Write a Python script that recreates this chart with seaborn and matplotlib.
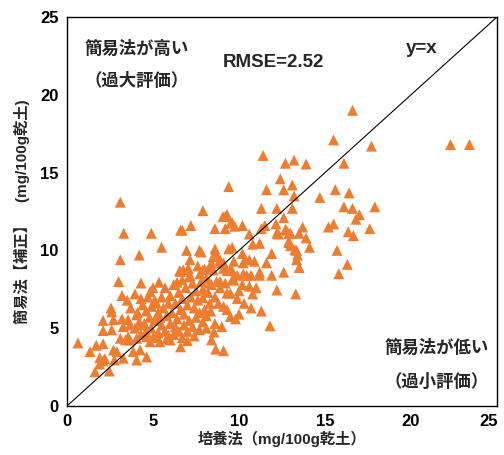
import matplotlib
matplotlib.use("Agg")
import matplotlib.pyplot as plt
import matplotlib.transforms as mtransforms
import seaborn as sns
import pandas as pd

# ---- data (培養法 x, 簡易法【補正】 y), mg/100g乾土 ----
x_vals = [
    0.64, 3.1, 16.6, 22.3, 23.4, 15.5, 17.7, 11.4, 12.7, 13.2, 13.9, 16.1, 9.4, 12.4, 11.6, 12.6,
    13.1, 13.2, 14.7, 15.6, 16.4, 7.9, 11.3, 12.2, 13.1, 16.1, 16.6, 17.0, 17.9, 16.8, 12.6, 9.2,
    9.6, 10.2, 8.6, 9.2, 10.6, 11.3, 12.15, 12.7, 12.9, 13.7, 13.5, 12.3, 15.2, 15.5, 16.35, 16.65,
    17.6, 13.9, 12.9, 11.2, 10.8, 9.6, 9.4, 8.6, 7.8, 14.1, 13.35, 11.9, 15.7, 10.2, 8.5, 10.6,
    10.9, 11.6, 10.25, 16.3, 13.5, 15.8, 12.6, 13.4, 12.2, 13.3, 11.3, 11.8, 10.45, 11.2, 11.9, 9.5,
    9.9, 9.5, 9.8, 8.6, 8.55, 8.4, 8.65, 9.1, 7.9, 8.0, 8.35, 7.9, 7.2, 6.7, 9.07, 9.3,
    9.5, 9.75, 11.5, 12.2, 12.75, 13.0, 12.9, 13.0, 6.95, 7.15, 7.7, 8.7, 10.35, 13.25, 13.35, 6.76,
    7.05, 7.15, 7.73, 8.3, 8.5, 9.1, 9.5, 10.25, 10.7, 11.2, 8.9, 9.1, 9.7, 3.3, 4.9, 5.5,
    3.1, 4.2, 6.6, 6.55, 3.0, 4.3, 5.35, 6.4, 6.6, 3.2, 3.95, 4.83, 5.1, 4.92, 2.56, 2.6,
    2.1, 2.7, 3.2, 3.55, 2.1, 2.6, 4.05, 3.95, 4.25, 3.1, 3.4, 3.55, 1.34, 1.7, 2.1, 1.9,
    2.2, 1.63, 2.46, 1.9, 2.1, 2.7, 2.9, 2.75, 3.27, 3.85, 4.25, 4.63, 4.05, 3.66, 4.05, 4.63,
    4.83, 5.2, 5.4, 6.0, 5.9, 3.27, 3.66,
    4.4, 4.6, 4.8, 4.5, 4.9, 5.1, 5.3, 5.2, 5.5, 5.6, 5.8, 5.5, 5.7, 6.0, 6.1, 6.3,
    6.0, 6.5, 6.7, 6.6, 6.4, 6.8, 7.0, 7.2, 6.9, 7.3, 7.5, 7.6, 7.4, 7.7, 7.1, 6.8,
    6.5, 6.2, 7.0, 7.3, 6.7, 7.4, 5.0, 5.3, 4.6, 4.3, 4.1, 4.3, 4.7, 5.0, 5.7, 6.2,
    6.7, 7.1, 7.8, 8.1, 7.9, 8.2, 8.4, 8.7, 8.9, 8.6, 8.8, 9.1, 8.3, 8.1, 7.5, 9.2,
    9.6, 9.9, 10.2, 10.0, 10.6, 10.8, 9.6, 8.0, 8.4, 7.6, 5.9, 5.4, 4.2, 6.3, 7.7, 8.1,
    9.0, 9.3, 10.3, 10.7, 10.0, 11.0, 3.7, 3.5, 5.8, 6.6, 7.0, 8.9, 9.3, 9.7, 7.9, 8.3,
    8.9, 9.3,
]
y_vals = [
    4.05, 13.1, 19.0, 16.8, 16.8, 17.1, 16.7, 16.1, 15.6, 15.8, 15.55, 15.6, 14.1, 14.6, 13.9, 13.9,
    14.2, 13.5, 13.4, 13.9, 13.7, 12.55, 12.7, 12.7, 12.7, 12.8, 12.7, 12.3, 12.8, 12.0, 12.1, 12.2,
    11.8, 11.6, 11.4, 11.4, 11.05, 11.4, 11.7, 11.35, 11.1, 11.5, 11.1, 11.05, 11.5, 11.7, 11.2, 10.95,
    11.4, 10.8, 10.6, 10.45, 10.4, 10.2, 10.1, 10.1, 9.9, 10.2, 10.0, 9.8, 10.0, 9.8, 9.6, 9.4,
    9.3, 9.2, 9.2, 9.1, 8.9, 8.5, 8.6, 9.7, 7.45, 7.2, 6.1, 5.15, 8.4, 8.4, 8.4, 7.25,
    6.9, 5.75, 5.6, 5.3, 4.75, 4.25, 3.65, 3.55, 6.96, 6.2, 6.1, 5.4, 11.6, 11.3, 12.17, 12.3,
    11.75, 11.55, 11.6, 11.1, 11.3, 11.1, 10.5, 10.3, 10.0, 9.4, 10.0, 9.7, 9.4, 10.05, 9.4, 8.74,
    8.85, 8.4, 8.5, 8.95, 8.74, 8.85, 8.74, 8.5, 8.4, 8.6, 9.4, 9.2, 9.3, 11.1, 11.1, 10.2,
    9.4, 9.7, 11.3, 8.7, 8.0, 7.9, 7.95, 7.95, 8.65, 7.1, 7.2, 7.35, 6.8, 6.4, 6.3, 6.05,
    5.5, 5.55, 5.6, 5.55, 4.85, 4.9, 5.85, 5.0, 5.2, 4.35, 4.25, 4.45, 3.5, 3.9, 4.0, 3.1,
    3.05, 2.2, 2.25, 2.7, 2.9, 3.6, 3.5, 2.95, 3.07, 3.5, 3.6, 3.15, 2.95, 4.24, 4.35, 4.45,
    4.13, 4.45, 4.13, 4.24, 4.56, 5.1, 5.2,
    6.5, 6.1, 5.7, 5.3, 5.0, 5.5, 6.0, 6.6, 7.0, 6.3, 5.8, 5.2, 4.8, 5.3, 6.0, 6.6,
    7.1, 7.3, 6.9, 6.2, 5.6, 5.9, 6.5, 7.0, 7.6, 7.9, 7.4, 6.8, 6.3, 6.0, 5.5, 5.2,
    4.8, 4.6, 4.8, 5.1, 4.4, 4.5, 4.4, 4.7, 4.8, 4.6, 6.0, 6.9, 7.0, 7.6, 7.6, 7.8,
    8.1, 8.3, 8.0, 8.2, 7.5, 7.3, 7.8, 8.0, 7.6, 7.0, 6.6, 6.4, 6.6, 5.8, 5.7, 7.9,
    8.1, 8.4, 7.8, 7.4, 7.7, 7.2, 8.7, 8.8, 9.2, 9.0, 6.6, 5.7, 5.4, 5.1, 4.9, 5.0,
    5.1, 6.2, 6.6, 6.3, 5.9, 7.6, 6.3, 6.8, 4.3, 3.8, 4.2, 9.2, 8.7, 8.1, 8.74, 7.9,
    8.0, 7.25,
]
n = min(len(x_vals), len(y_vals))
df = pd.DataFrame({"culture": x_vals[:n], "simple": y_vals[:n]})

ticks = [0, 5, 10, 15, 20, 25]
tick_labels = ["0", "5", "10", "15", "20", "25"]

sns.set_style("white")
plt.rcParams["font.family"] = ["Liberation Sans", "Noto Sans CJK JP", "DejaVu Sans"]
plt.rcParams["font.weight"] = "bold"

fig = plt.figure(figsize=(5.04, 4.55), dpi=100)
ax = fig.add_axes([67 / 504, 49 / 455, 430 / 504, 389 / 455])

sns.scatterplot(data=df, x="culture", y="simple", marker="^", s=62,
                color="#ED7D31", edgecolor="none", linewidth=0, ax=ax, zorder=2)
ax.plot([0, 25], [0, 25], color="black", linewidth=0.8, zorder=3)

ax.set_xlim(0, 25)
ax.set_ylim(0, 25)
ax.set_xticks(ticks)
ax.set_xticklabels(tick_labels, fontsize=12, fontweight="bold")
ax.set_yticks(ticks)
ax.set_yticklabels(tick_labels, fontsize=12, fontweight="bold")
ax.tick_params(axis="both", direction="in", length=5, width=1, color="black",
               labelcolor="black", top=False, right=False, pad=6)
for sp in ax.spines.values():
    sp.set_color("black")
    sp.set_linewidth(1.0)

# keep the last x tick label inside the figure
last = ax.get_xticklabels()[-1]
last.set_transform(last.get_transform() +
                   mtransforms.ScaledTranslation(-6 / 72, 0, fig.dpi_scale_trans))

ax.set_xlabel("培養法（mg/100g乾土）", fontsize=11, fontweight="bold", labelpad=1)
ax.set_ylabel("簡易法【補正】　(mg/100g乾土)", fontsize=11, fontweight="bold", labelpad=7)

ax.text(4.05, 23.0, "簡易法が高い", fontsize=12.5, fontweight="bold", ha="center", va="center")
ax.text(4.05, 20.9, "（過大評価）", fontsize=12.5, fontweight="bold", ha="center", va="center")
ax.text(12.0, 22.1, "RMSE=2.52", fontsize=13.5, fontweight="bold", ha="center", va="center")
ax.text(20.6, 23.0, "y=x", fontsize=13.5, fontweight="bold", ha="center", va="center")
ax.text(21.5, 3.8, "簡易法が低い", fontsize=12.5, fontweight="bold", ha="center", va="center")
ax.text(21.5, 1.55, "（過小評価）", fontsize=12.5, fontweight="bold", ha="center", va="center")

fig.savefig("out.png", dpi=100)
